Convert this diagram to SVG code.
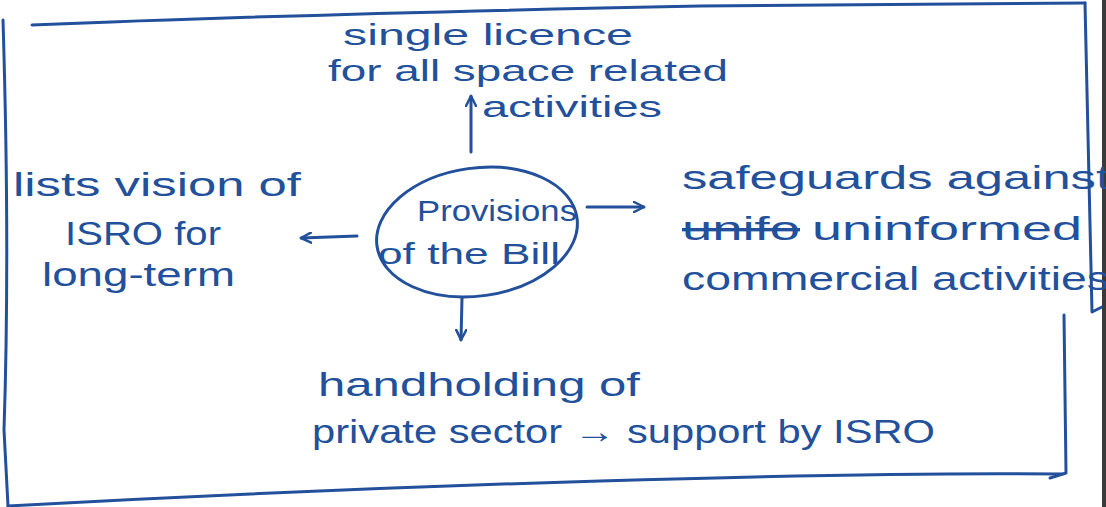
<svg xmlns="http://www.w3.org/2000/svg" width="1106" height="507" viewBox="0 0 1106 507">
<style>
.ink{fill:none;stroke:#22509b;stroke-width:3;stroke-linecap:round;stroke-linejoin:round}
.t{font-family:"Liberation Sans",Arial,sans-serif;font-size:34px;fill:#22509b}
.s{font-size:30px}
</style>
<defs>
<marker id="ah" viewBox="0 0 12 12" refX="11" refY="6" markerWidth="12" markerHeight="12" markerUnits="userSpaceOnUse" orient="auto">
<path d="M1,1 L11,6 L1,11" fill="none" stroke="#22509b" stroke-width="2.5" stroke-linecap="round" stroke-linejoin="round"/>
</marker>
</defs>
<rect width="1106" height="507" fill="#ffffff"/>
<g id="frame">
<path class="ink" d="M32,25 Q300,14 700,6 L1085,3"/>
<path class="ink" d="M1085,3 Q1088,150 1092,312 L1104,306"/>
<path class="ink" d="M1064,315 L1066,473 L1050,478"/>
<path class="ink" d="M8,506 Q300,490 600,481 T1062,474"/>
<path class="ink" d="M3,20 Q10,250 4,430 L8,506"/>
<rect x="1102" y="0" width="4" height="507" fill="#3a3a3a"/>
</g>
<g id="connectors">
<path class="ink" d="M471,152 L471,96" marker-end="url(#ah)"/>
<path class="ink" d="M357,236 L301,238" marker-end="url(#ah)"/>
<path class="ink" d="M587,207 L644,207" marker-end="url(#ah)"/>
<path class="ink" d="M462,298 L461,340" marker-end="url(#ah)"/>
</g>
<g id="center">
<ellipse class="ink" cx="477" cy="232" rx="101" ry="64" transform="rotate(-8 477 232)"/>
<text class="t s" x="417" y="221" textLength="160" lengthAdjust="spacingAndGlyphs">Provisions</text>
<text class="t s" x="378" y="264" textLength="182" lengthAdjust="spacingAndGlyphs">of the Bill</text>
</g>
<g id="top">
<text class="t s" x="343" y="45" textLength="290" lengthAdjust="spacingAndGlyphs">single licence</text>
<text class="t s" x="328" y="81" textLength="400" lengthAdjust="spacingAndGlyphs">for all space related</text>
<text class="t s" x="482" y="117" textLength="180" lengthAdjust="spacingAndGlyphs">activities</text>
</g>
<g id="left">
<text class="t" x="13" y="196" textLength="288" lengthAdjust="spacingAndGlyphs">lists vision of</text>
<text class="t" x="65" y="245" textLength="156" lengthAdjust="spacingAndGlyphs">ISRO for</text>
<text class="t" x="42" y="286" textLength="193" lengthAdjust="spacingAndGlyphs">long-term</text>
</g>
<g id="right">
<text class="t" x="682" y="189" textLength="428" lengthAdjust="spacingAndGlyphs">safeguards against</text>
<text class="t" x="682" y="240" textLength="118" lengthAdjust="spacingAndGlyphs" text-decoration="line-through">unifo</text>
<text class="t" x="812" y="240" textLength="270" lengthAdjust="spacingAndGlyphs">uninformed</text>
<text class="t" x="682" y="290" textLength="428" lengthAdjust="spacingAndGlyphs">commercial activities</text>
</g>
<g id="bottom">
<text class="t" x="318" y="396" textLength="322" lengthAdjust="spacingAndGlyphs">handholding of</text>
<text class="t" x="312" y="443" textLength="623" lengthAdjust="spacingAndGlyphs">private sector → support by ISRO</text>
</g>
</svg>
